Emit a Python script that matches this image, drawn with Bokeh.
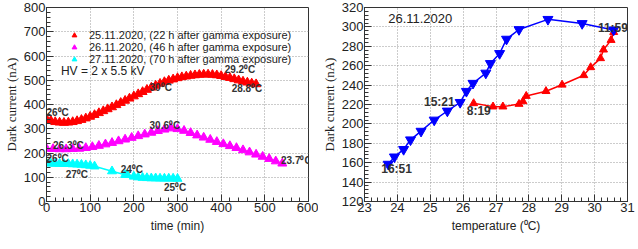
from bokeh.plotting import figure
from bokeh.layouts import row
from bokeh.models import (SingleIntervalTicker, Legend, LegendItem, Range1d, Label,
                          LabelSet, ColumnDataSource)
from bokeh.core.properties import value
from bokeh.embed import file_html
from bokeh.resources import INLINE

# ---------------- Left panel data: dark current vs time ----------------
t_red = [0, 10, 20, 30, 40, 50, 60, 70, 80, 90, 100, 110, 120, 130, 140, 150, 160,
         170, 180, 190, 200, 210, 220, 230, 240, 250, 260, 270, 280, 290, 300, 310,
         320, 330, 340, 350, 360, 370, 380, 390, 400, 410, 420, 430, 440, 450, 460,
         470, 480]
i_red = [340, 333, 328, 326, 325, 326, 328, 332, 337, 343, 350, 357, 365, 373, 381,
         389, 398, 407, 416, 425, 434, 443, 452, 461, 470, 478, 486, 493, 499, 504,
         509, 513, 516, 519, 521, 523, 524, 524, 523, 521, 518, 514, 510, 505, 500,
         495, 491, 487, 484]

t_mag = [0, 15, 30, 45, 60, 75, 90, 105, 120, 135, 150, 165, 180, 195, 210, 225,
         240, 255, 270, 285, 300, 315, 330, 345, 360, 375, 390, 405, 420, 435, 450,
         465, 480, 495, 510, 525, 540]
i_mag = [218, 217, 216, 216, 217, 218, 221, 225, 230, 236, 242, 249, 256, 263, 270,
         277, 284, 291, 297, 302, 299, 292, 283, 273, 264, 255, 246, 237, 229, 221,
         212, 203, 194, 185, 176, 166, 157]

t_cyan = [0, 10, 20, 30, 40, 50, 60, 70, 80, 90, 100, 110, 150, 180, 185, 200, 210,
          220, 230, 240, 250, 260, 270, 280, 290, 300]
i_cyan = [158, 157, 156, 156, 155, 155, 154, 153, 152, 150, 148, 145, 125, 110, 110,
          103, 100, 98, 97, 96, 96, 95, 95, 95, 95, 94]

series_names = ["25.11.2020, (22 h after gamma exposure)",
                "26.11.2020, (46 h after gamma exposure)",
                "27.11.2020, (70 h after gamma exposure)"]

left_lbl_text = ["26\u2070C", "30\u2070C", "29.2\u2070C", "28.8\u2070C", "30.6\u2070C",
                 "26.3\u2070C", "26\u2070C", "27\u2070C", "24\u2070C", "25\u2070C", "23.7\u2070C"]
left_lbl_x = [0, 236, 408, 424, 236, 15, 0, 44, 170, 269, 537]
left_lbl_y = [368, 472, 544, 464, 312, 232, 176, 112, 132, 56, 168]

# ---------------- Right panel data: dark current vs temperature ----------------
temp_up = [26.32, 26.91, 27.21, 27.70, 27.82, 27.92, 28.52, 29.01, 29.67, 29.88,
           30.18, 30.27, 30.50, 30.58]
cur_up = [221.2, 217.8, 217.8, 220.5, 223.2, 228.7, 233.7, 240.3, 250.1, 258.3,
          267.6, 276.5, 286.4, 294.6]

temp_down = [30.58, 29.62, 28.58, 27.70, 27.32, 27.11, 26.83, 26.69, 26.30, 26.10,
             25.91, 25.52, 25.12, 24.72, 24.40, 24.19, 23.91, 23.72]
cur_down = [296.9, 303.5, 307.8, 297.3, 287.4, 272.6, 262.3, 252.4, 241.9, 233.6,
            222.2, 213.3, 204.0, 192.5, 183.6, 173.7, 166.0, 158.5]

right_lbl_text = ["15:21", "8:19", "11:59", "16:51"]
right_lbl_x = [24.81, 26.11, 30.10, 23.51]
right_lbl_y = [223, 213, 299, 154]

SANS = "Liberation Sans"
SERIF = "Liberation Serif"
TXT = "#222222"


def style(p, xint, yint, xlabel):
    p.outline_line_color = "#333333"
    p.outline_line_width = 1
    for ax in (p.xaxis[0], p.yaxis[0]):
        ax.axis_line_color = "#333333"
        ax.major_tick_in = 7
        ax.major_tick_out = 0
        ax.minor_tick_in = 4
        ax.minor_tick_out = 0
        ax.major_tick_line_color = "#333333"
        ax.minor_tick_line_color = "#333333"
        ax.major_label_text_font = SANS
        ax.major_label_text_font_size = "13px"
        ax.major_label_text_color = TXT
        ax.major_label_standoff = 1
        ax.axis_label_text_font_style = "normal"
        ax.axis_label_text_color = TXT
    p.xaxis[0].ticker = SingleIntervalTicker(interval=xint, num_minor_ticks=5)
    p.yaxis[0].ticker = SingleIntervalTicker(interval=yint, num_minor_ticks=5)
    p.xaxis[0].axis_label = xlabel
    p.xaxis[0].axis_label_text_font = SANS
    p.xaxis[0].axis_label_text_font_size = "12px"
    p.xaxis[0].axis_label_standoff = 4
    p.yaxis[0].axis_label = "Dark current (nA)"
    p.yaxis[0].axis_label_text_font = SERIF
    p.yaxis[0].axis_label_text_font_size = "13px"
    p.yaxis[0].axis_label_standoff = 2
    for g in (p.xgrid[0], p.ygrid[0]):
        g.grid_line_color = "#999999"
        g.grid_line_dash = "1 2"
        g.grid_line_width = 1
    p.xgrid[0].ticker = p.xaxis[0].ticker
    p.ygrid[0].ticker = p.yaxis[0].ticker


def labels(p, xs, ys, texts, size):
    src = ColumnDataSource(dict(x=xs, y=ys, t=texts))
    p.add_layout(LabelSet(x="x", y="y", text="t", source=src,
                          text_font=value(SANS), text_font_size=value(size),
                          text_font_style=value("bold"), text_color=value("#333333"),
                          text_baseline=value("middle"), text_align=value("left")))


# ---------------- Left figure ----------------
p1 = figure(frame_width=262, frame_height=194, output_backend="svg",
            toolbar_location=None,
            x_range=Range1d(0, 600), y_range=Range1d(0, 800),
            min_border_left=0, min_border_right=10, min_border_top=7,
            min_border_bottom=0)
style(p1, 100, 100, "time (min)")

cols = ["#ff0000", "#ff00ff", "#00ffff"]
rs = []
for tx, iy, c in ((t_red, i_red, cols[0]), (t_mag, i_mag, cols[1]), (t_cyan, i_cyan, cols[2])):
    p1.line(tx, iy, line_color=c, line_width=1.5)
    r = p1.scatter(tx, iy, marker="triangle", size=9, fill_color=c, line_color=c)
    rs.append(r)

leg = Legend(items=[LegendItem(label=series_names[k], renderers=[rs[k]]) for k in range(3)],
             location="top_left", margin=4, padding=18, spacing=0,
             glyph_width=12, glyph_height=12, label_height=12, label_standoff=9,
             label_text_font=SANS, label_text_font_size="11px", label_text_color=TXT,
             background_fill_alpha=0, border_line_alpha=0)
p1.add_layout(leg, "center")

p1.add_layout(Label(x=33, y=540, text="HV = 2 x 5.5 kV", text_font=SANS,
                    text_font_size="12px", text_color=TXT, text_baseline="middle"))

labels(p1, left_lbl_x, left_lbl_y, left_lbl_text, "10px")

# ---------------- Right figure ----------------
p2 = figure(frame_width=263, frame_height=194, output_backend="svg",
            toolbar_location=None,
            x_range=Range1d(23, 31), y_range=Range1d(120, 320),
            min_border_left=0, min_border_right=9, min_border_top=7,
            min_border_bottom=0)
style(p2, 1, 20, "temperature (\u2070C)")

p2.line(temp_up, cur_up, line_color="#ff0000", line_width=1.5)
p2.scatter(temp_up, cur_up, marker="triangle", size=8, fill_color="#ff0000",
           line_color="#ff0000")
p2.line(temp_down, cur_down, line_color="#0000ff", line_width=1.5)
p2.scatter(temp_down, cur_down, marker="inverted_triangle", size=10,
           fill_color="#0000ff", line_color="#0000ff")

p2.add_layout(Label(x=23.72, y=309, text="26.11.2020", text_font=SANS,
                    text_font_size="13px", text_color=TXT, text_baseline="middle"))
labels(p2, right_lbl_x, right_lbl_y, right_lbl_text, "12px")

layout = row(p1, p2, spacing=0)
open("out.html", "w").write(file_html(layout, INLINE))
